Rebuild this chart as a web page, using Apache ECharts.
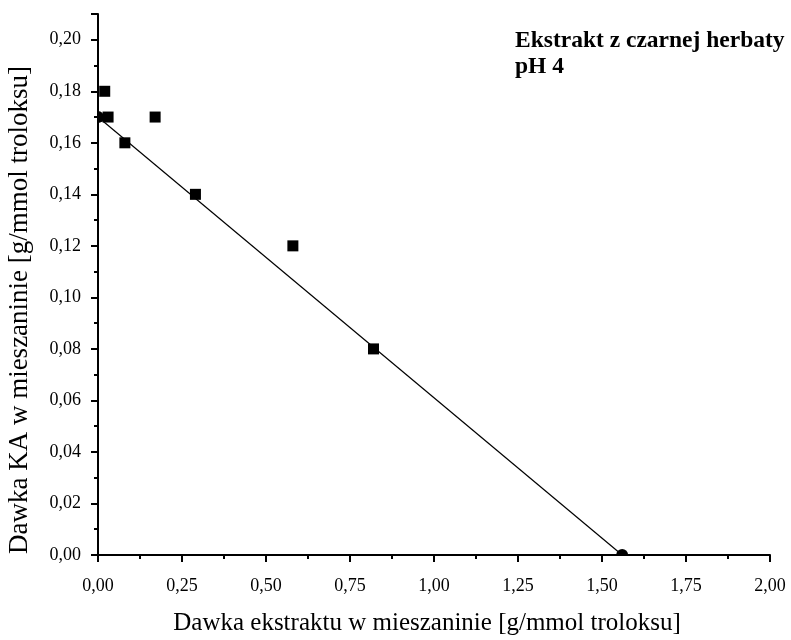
<!DOCTYPE html>
<html><head><meta charset="utf-8">
<script src="https://cdn.jsdelivr.net/npm/echarts@6/dist/echarts.min.js"></script>
<style>html,body{margin:0;padding:0;background:#fff}#c{width:791px;height:640px}</style>
</head><body><div id="c"></div>
<script>
const squaresX = [0.02, 0.03, 0.08, 0.17, 0.29, 0.58, 0.82];
const squaresY = [0.18, 0.17, 0.16, 0.17, 0.14, 0.12, 0.08];
const circlesX = [0.00, 1.56];
const circlesY = [0.17, 0.00];
const fitX = [0.00, 1.56];
const fitY = [0.17, 0.00];
const xTitle = 'Dawka ekstraktu w mieszaninie [g/mmol troloksu]';
const yTitle = 'Dawka KA w mieszaninie [g/mmol troloksu]';
const label1 = 'Ekstrakt z czarnej herbaty';
const label2 = 'pH 4';

const font = '"Liberation Serif", "Times New Roman", serif';
const chart = echarts.init(document.getElementById('c'), null, {renderer: 'canvas'});
const fmt = (v, d) => v.toFixed(d).replace('.', ',');
// half-disc symbols: the reference clips the circles at the plot border
const rightHalf = 'path://M0,0 A5,5 0 0 1 0,10 Z';
const topHalf = 'path://M0,5 A5,5 0 0 1 10,5 Z';
const circleData = circlesX.map((x, i) => {
  const onLeft = x === 0;
  return {
    value: [x, circlesY[i]],
    symbol: onLeft ? rightHalf : topHalf,
    symbolSize: onLeft ? [6, 12] : [12, 6],
    symbolOffset: onLeft ? [3, 0] : [0, -3]
  };
});
chart.setOption({
  animation: false,
  backgroundColor: '#fff',
  grid: {left: 98, right: 21, top: 14, bottom: 85, containLabel: false},
  xAxis: {
    type: 'value', min: 0, max: 2, interval: 0.25,
    axisLine: {show: true, lineStyle: {color: '#000', width: 2}},
    axisTick: {show: true, inside: false, length: 7, lineStyle: {color: '#000', width: 2}},
    minorTick: {show: true, splitNumber: 2, length: 4, lineStyle: {color: '#000', width: 2}},
    splitLine: {show: false},
    axisLabel: {color: '#000', fontFamily: font, fontSize: 18, margin: 22, formatter: v => fmt(v, 2)}
  },
  yAxis: {
    type: 'value', min: 0, max: 0.21, interval: 0.02,
    axisLine: {show: true, lineStyle: {color: '#000', width: 2}},
    axisTick: {show: true, inside: false, length: 7, lineStyle: {color: '#000', width: 2}},
    minorTick: {show: true, splitNumber: 2, length: 4, lineStyle: {color: '#000', width: 2}},
    splitLine: {show: false},
    axisLabel: {color: '#000', fontFamily: font, fontSize: 18, margin: 17,
      formatter: v => (Math.abs(v - 0.21) < 1e-9 ? '' : fmt(v, 2)), showMaxLabel: false}
  },
  graphic: [
    {type: 'text', left: 515, top: 29, style: {text: label1, font: 'bold 23.5px ' + font, fill: '#000'}},
    {type: 'text', left: 515, top: 55, style: {text: label2, font: 'bold 23.5px ' + font, fill: '#000'}},
    {type: 'text', x: 427, y: 623, style: {text: xTitle, font: '25px ' + font, fill: '#000', align: 'center', verticalAlign: 'middle'}},
    {type: 'text', x: 20, y: 310, rotation: Math.PI / 2, style: {text: yTitle, font: '27px ' + font, fill: '#000', align: 'center', verticalAlign: 'middle'}}
  ],
  series: [
    {type: 'line', data: fitX.map((x, i) => [x, fitY[i]]), showSymbol: false, symbol: 'none',
     lineStyle: {color: '#000', width: 1.2}, clip: true, z: 2},
    {type: 'scatter', data: squaresX.map((x, i) => [x, squaresY[i]]), symbol: 'rect', symbolSize: 11,
     itemStyle: {color: '#000', opacity: 1}, z: 3},
    {type: 'scatter', data: circleData, itemStyle: {color: '#000', opacity: 1}, z: 4}
  ]
});
</script></body></html>
